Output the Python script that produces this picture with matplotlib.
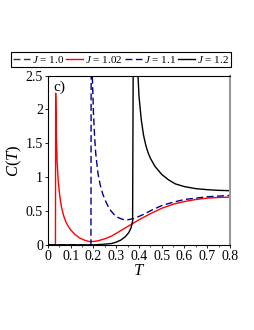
import matplotlib

matplotlib.use("Agg")

import matplotlib.pyplot as plt
from matplotlib.ticker import MultipleLocator

plt.rcParams["font.family"] = "Liberation Serif"
plt.rcParams["mathtext.fontset"] = "custom"
plt.rcParams["mathtext.rm"] = "Liberation Serif"
plt.rcParams["mathtext.it"] = "Liberation Serif:italic"

# J = 1.0 (stays at ~0 in the visible window)
t_10 = [0.0, 0.01, 0.02]
c_10 = [0.0, 0.0, 0.0]

# J = 1.02
t_102 = [0.0, 0.033, 0.034, 0.036, 0.04, 0.045, 0.05, 0.055, 0.06, 0.07, 0.08, 0.09,
         0.1, 0.12, 0.14, 0.16, 0.18, 0.2, 0.22, 0.25, 0.28, 0.3, 0.33, 0.36,
         0.4, 0.45, 0.5, 0.55, 0.6, 0.65, 0.7, 0.75, 0.8]
c_102 = [0.0, 0.0, 2.24, 1.75, 1.25, 0.95, 0.78, 0.65, 0.55, 0.42, 0.33, 0.27,
         0.22, 0.15, 0.1, 0.07, 0.05, 0.05, 0.06, 0.09, 0.13, 0.17, 0.23, 0.29,
         0.37, 0.46, 0.54, 0.6, 0.64, 0.67, 0.69, 0.7, 0.705]

# J = 1.1
t_11 = [0.0, 0.189, 0.19, 0.195, 0.2, 0.205, 0.21, 0.22, 0.23, 0.24, 0.25, 0.27,
        0.29, 0.31, 0.33, 0.35, 0.38, 0.42, 0.46, 0.5, 0.55, 0.6, 0.65, 0.7,
        0.75, 0.8]
c_11 = [0.0, 0.0, 3.0, 2.5, 1.95, 1.6, 1.35, 1.05, 0.88, 0.76, 0.67, 0.53,
        0.45, 0.4, 0.375, 0.37, 0.39, 0.45, 0.52, 0.58, 0.63, 0.67, 0.69, 0.71,
        0.72, 0.73]

# J = 1.2
t_12 = [0.0, 0.2, 0.25, 0.28, 0.3, 0.32, 0.34, 0.355, 0.365, 0.372, 0.375, 0.39,
        0.395, 0.4, 0.41, 0.42, 0.43, 0.44, 0.45, 0.47, 0.5, 0.53, 0.56, 0.6,
        0.65, 0.7, 0.75, 0.8]
c_12 = [0.0, 0.0, 0.01, 0.02, 0.04, 0.07, 0.12, 0.18, 0.25, 0.35, 3.0, 3.0,
        2.55, 2.2, 1.85, 1.62, 1.47, 1.36, 1.28, 1.16, 1.04, 0.96, 0.9, 0.86,
        0.83, 0.815, 0.805, 0.8]

fig = plt.figure(figsize=(2.55, 3.3), dpi=100)
ax = fig.add_axes([0.188, 0.258, 0.714, 0.513])

l10, = ax.plot(t_10, c_10, color="#333333", lw=1.0, ls=(0, (5, 2.5)))
l102, = ax.plot(t_102, c_102, color="#ff0000", lw=1.0)
l11, = ax.plot(t_11, c_11, color="#00008b", lw=1.0, ls=(0, (5, 2.5)))
l12, = ax.plot(t_12, c_12, color="black", lw=1.0)

ax.set_xlim(0, 0.8)
ax.set_ylim(0, 2.5)
ax.xaxis.set_major_locator(MultipleLocator(0.1))
ax.xaxis.set_minor_locator(MultipleLocator(0.05))
ax.yaxis.set_major_locator(MultipleLocator(0.5))
ax.xaxis.set_major_formatter(plt.FuncFormatter(lambda v, p: f"{v:g}"))
ax.yaxis.set_major_formatter(plt.FuncFormatter(lambda v, p: f"{v:g}"))
ax.tick_params(labelsize=10, length=2, width=0.6, pad=1.5)
ax.tick_params(which="minor", length=1.2, width=0.5)
ax.tick_params(axis="y", which="minor", left=False)

for s in ("left", "top", "bottom"):
    ax.spines[s].set_linewidth(0.8)
ax.spines["right"].set_color("#999999")
ax.spines["right"].set_linewidth(1.5)

ax.set_xlabel("$T$", fontsize=12, labelpad=0)
ax.set_ylabel("$C(T)$", fontsize=12, labelpad=1)
ax.text(0.025, 2.33, "c)", fontsize=11, ha="left", va="center")

leg = fig.legend([l10, l102, l11, l12],
                 ["$J$ = 1.0", "$J$ = 1.02", "$J$ = 1.1", "$J$ = 1.2"],
                 loc="center", bbox_to_anchor=(0.475, 0.82), ncol=4,
                 fontsize=8, handlelength=1.5, handletextpad=0.2,
                 columnspacing=0.2, borderpad=0.2, borderaxespad=0,
                 fancybox=False, framealpha=1, edgecolor="black")
leg.get_frame().set_linewidth(0.8)

fig.savefig("out.png", dpi=100)
